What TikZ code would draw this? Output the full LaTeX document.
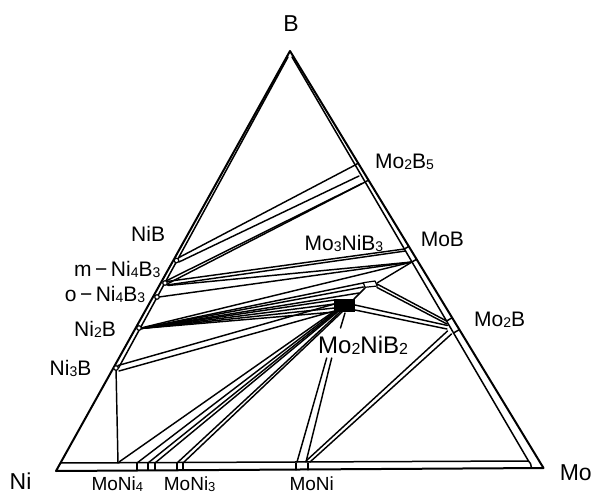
\documentclass[tikz,border=0pt]{standalone}
\usepackage{fontspec}
\setmainfont{Liberation Sans}
\newcommand\dsub[1]{{\fontsize{14}{14}\selectfont\raisebox{-1pt}{#1}}}
\newcommand\dsubS[1]{{\fontsize{13}{13}\selectfont\raisebox{-0.5pt}{#1}}}
\newcommand\dsubL[1]{{\fontsize{16}{16}\selectfont\raisebox{-1pt}{#1}}}
\tikzset{
 lbl/.style={font=\fontsize{21}{21}\selectfont, inner sep=0pt, anchor=base west},
 biglbl/.style={font=\fontsize{23}{23}\selectfont, inner sep=0pt, anchor=base west},
 botlbl/.style={font=\fontsize{19}{19}\selectfont, inner sep=0pt, anchor=base west},
 outerline/.style={line width=2pt},
 innerline/.style={line width=1.5pt},
 tie/.style={line width=1.45pt},
 ptmark/.style={line width=1.2pt, fill=white},
}
\begin{document}
\begin{tikzpicture}[x=1pt,y=-1pt,line join=round,line cap=round]
\useasboundingbox (0,0) rectangle (595,495);
\fill[white] (0,0) rectangle (595,495);
% corners
\coordinate (Ni) at (56,471);
\coordinate (Mo) at (543.5,468);
\coordinate (B) at (290,51);
% inner band lines
\coordinate (RiT) at (292,57);
\coordinate (RiB) at (528.5,461);
\coordinate (BiL) at (60.5,463);
\coordinate (LiB) at (118.5,368);
\coordinate (LiT) at (288,57);
% phase points
\coordinate (NiB) at (176.5,260.5);
\coordinate (mN) at (165,283);
\coordinate (oN) at (157,297);
\coordinate (Ni2B) at (139,328);
\coordinate (Ni3B) at (116,368);
\coordinate (M5a) at (355.2,165);
\coordinate (M5b) at (365.2,182);
\coordinate (MBa) at (404.4,249);
\coordinate (MBb) at (412,262);
\coordinate (M2Ba) at (446.6,321);
\coordinate (M2Bb) at (453.6,333);

% ---- tie lines ----
\begin{scope}[tie]
% NiB / m-Ni4B3 to Mo2B5
\draw (179,257.5) -- (M5a);
\draw (179,262) -- (359,176);
\draw (167,280.5) -- (362,183.5);
\draw (168,283.5) -- (M5b);
% m-Ni4B3, o-Ni4B3 to MoB
\draw (167,281.5) -- (MBa);
\draw (167,285) -- (405.5,251);
\draw (168,285.5) -- (MBb);
\draw (159,297) -- (MBb);
% Ni2B fan
\draw (141,328) -- (MBb);
\foreach \p in {(363,283),(363.5,287),(359,293),(334.5,300),(334.5,304),(334.5,308),(334.5,312)}
  \draw (141,328.5) -- \p;
% Ni3B band
\draw (118,365.5) -- (334.5,304);
\draw (119,371) -- (334.5,311);
\draw (Ni3B) -- (118,463);
% bottom bundle
\draw (119,462) -- (333,312);
\draw (137,463) -- (334.5,312);
\draw (148,463) -- (336,312);
\draw (155,463) -- (337.5,312);
\draw (177,463) -- (340,312);
\draw (183,463) -- (342,312);
% MoNi
\draw (297,462) -- (326.7,358);
\draw (306,462) -- (331.7,358);
\draw (306,461) -- (447.5,331);
\draw (310,462) -- (451.5,334);
% Mo2B
\draw (M2Ba) -- (377,284);
\draw (447,324) -- (377,287.5);
\draw (447.5,325.5) -- (355,305);
\draw (447,329) -- (355,310);
% MoB - Mo3NiB3 - Mo2NiB2
\draw (MBb) -- (377,283);
\draw (365,288) -- (354,299);
% pointer
\draw (345,313) -- (340.5,328);
\end{scope}

% ---- frame ----
\draw[outerline] (Ni) -- (B) -- (Mo) -- cycle;
\draw[innerline] (RiT) -- (RiB) -- (BiL);
\draw[innerline] (RiB) .. controls (530.5,463) .. (531.5,468);
\draw[innerline] (LiB) -- (LiT);
% bottom ticks
\foreach \x in {137,148,155,177,183,296,308}
  \draw[innerline] (\x,463) -- (\x,469.8);
% right band ticks
\draw[innerline] (M5a) -- (358.2,163.2);
\draw[innerline] (M5b) -- (368.4,180.1);
\draw[innerline] (MBa) -- (408.7,246.4);
\draw[innerline] (MBb) -- (416.5,259.3);
\draw[innerline] (M2Ba) -- (452.1,317.8);
\draw[innerline] (M2Bb) -- (459.3,329.6);
% left band points
\foreach \q in {NiB,mN,oN,Ni2B,Ni3B}
  \draw[ptmark] (\q) circle (2.3);
% ternary phases
\fill (334,299) rectangle (355,312);
\draw[ptmark] (363.3,282.7) -- (375,281) -- (377.3,286) -- (365,287.3) -- cycle;

% ---- labels ----
\node[biglbl, anchor=base] (tB) at (291,32) {B};
\node[lbl] (tMo2B5) at (375,168) {Mo\dsub{2}B\dsub{5}};
\node[lbl] (tNiB) at (131,241.7) {NiB};
\node[lbl] (tMo3NiB3) at (304.5,250) {Mo\dsub{3}NiB\dsub{3}};
\node[lbl] (tMoB) at (420.6,246.7) {MoB};
\node[lbl] (tmNi4B3) at (74,276.7) {m\,−\,Ni\dsub{4}B\dsub{3}};
\node[lbl] (toNi4B3) at (64.7,301.7) {o\,−\,Ni\dsub{4}B\dsub{3}};
\node[lbl] (tNi2B) at (74,336.7) {Ni\dsub{2}B};
\node[lbl] (tMo2B) at (474,326.7) {Mo\dsub{2}B};
\node[lbl, font=\fontsize{24}{24}\selectfont] (tMo2NiB2) at (318,353.3) {Mo\dsubL{2}NiB\dsubL{2}};
\node[lbl] (tNi3B) at (49.5,375) {Ni\dsub{3}B};
\node[biglbl] (tNi) at (9.5,489) {Ni};
\node[biglbl] (tMo) at (559.6,480) {Mo};
\node[botlbl] (tMoNi4) at (91.4,490.5) {MoNi\dsubS{4}};
\node[botlbl] (tMoNi3) at (163.7,490.5) {MoNi\dsubS{3}};
\node[botlbl] (tMoNi) at (289.3,490.5) {MoNi};
\end{tikzpicture}
\end{document}
